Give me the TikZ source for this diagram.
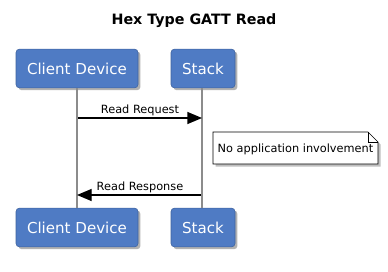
\documentclass[tikz,border=0pt]{standalone}
\usepackage{fontspec}
\setmainfont{DejaVu Sans}
\usetikzlibrary{shadows,arrows.meta,calc}
\definecolor{partblue}{HTML}{4F7BC4}
\definecolor{lifegray}{HTML}{8C8C8C}
\tikzset{
  px/.style={x=0.75pt,y=-0.75pt},
  part/.style={draw=partblue!80!black, line width=0.4pt, fill=partblue, rounded corners=2.5pt, text=white,
    font=\fontsize{11.3}{13}\selectfont, inner sep=0pt, drop shadow={shadow xshift=1.8pt,shadow yshift=-1.8pt,fill=black,opacity=0.3}},
  life/.style={draw=lifegray, line width=1.5pt},
  msg/.style={draw=black, line width=1pt, -{Triangle[length=11pt,width=9pt]}},
  msglabel/.style={font=\fontsize{8.5}{10}\selectfont, inner sep=1pt, anchor=south},
  notebox/.style={font=\fontsize{8.5}{10}\selectfont}
}
\begin{document}
\begin{tikzpicture}[px]
\useasboundingbox (0,0) rectangle (388,271);
\node[font=\bfseries\fontsize{10.7}{12}\selectfont] (title) at (194,21) {Hex Type GATT Read};
\node[part, minimum width=91.5pt, minimum height=29pt] (c1) at (77,68.5) {Client Device};
\node[part, minimum width=48pt, minimum height=29pt] (s1) at (203,68.5) {Stack};
\node[part, minimum width=91.5pt, minimum height=29pt] (c2) at (77,227.5) {Client Device};
\node[part, minimum width=48pt, minimum height=29pt] (s2) at (203,227.5) {Stack};
\draw[life] (c1.south -| 77,0) -- (c2.north -| 77,0);
\draw[life] (s1.south -| 202,0) -- (s2.north -| 202,0);
\coordinate (a1) at (78,118);
\coordinate (b1) at (202,118);
\draw[msg] (a1) -- (b1);
\node[msglabel] (l1) at (140,117) {Read Request};
\coordinate (a2) at (201,195);
\coordinate (b2) at (77,195);
\draw[msg] (a2) -- (b2);
\node[msglabel] (l2) at (140,194) {Read Response};
\fill[black, opacity=0.25] (215.5,134.5) -- (370.5,134.5) -- (380.5,144.5) -- (380.5,166.5) -- (215.5,166.5) -- cycle;
\draw[black, line width=0.5pt, fill=white] (213,132) -- (368,132) -- (378,142) -- (378,164) -- (213,164) -- cycle;
\draw[black, line width=0.5pt] (368,132) -- (368,142) -- (378,142);
\node[notebox] (note) at (295.5,149) {No application involvement};
\end{tikzpicture}
\end{document}
